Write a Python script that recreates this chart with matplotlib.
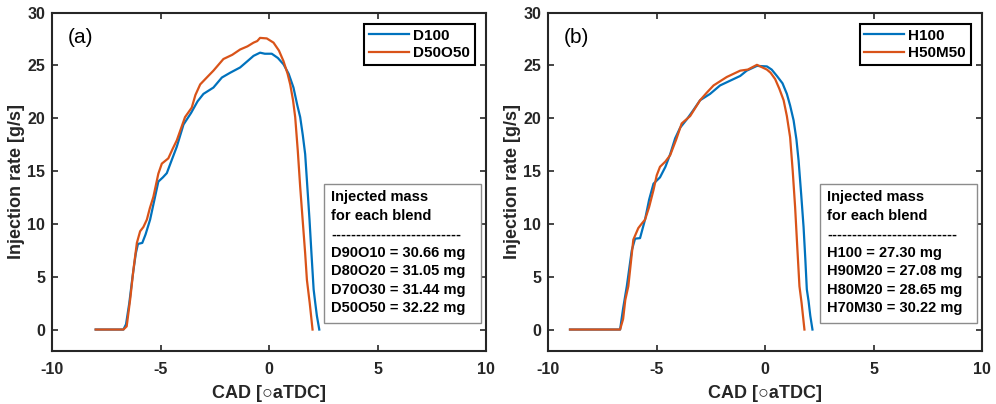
import numpy as np
import matplotlib
matplotlib.use("Agg")
import matplotlib.pyplot as plt
from matplotlib.patches import Rectangle

plt.rcParams['font.family'] = ['Liberation Sans', 'DejaVu Sans']
plt.rcParams['axes.unicode_minus'] = False

# panel (a) - diesel blends
cad_d100 = [-8.0, -6.72, -6.6, -6.45, -6.3, -6.15, -6.05, -5.85, -5.7, -5.49, -5.3, -5.11, -4.9, -4.72,
            -4.5, -4.26, -3.95, -3.6, -3.3, -3.03, -2.57, -2.18, -1.8, -1.34, -1.0, -0.72, -0.42, -0.2,
            0.12, 0.4, 0.66, 0.9, 1.12, 1.3, 1.43, 1.55, 1.66, 1.76, 1.86, 1.95, 2.05, 2.12, 2.2, 2.31]
rate_d100 = [0, 0, 0.5, 2.5, 5.0, 7.2, 8.1, 8.2, 9.0, 10.4, 12.2, 14.0, 14.4, 14.8,
             16.0, 17.3, 19.4, 20.5, 21.6, 22.3, 22.9, 23.85, 24.3, 24.8, 25.4, 25.9, 26.2, 26.1,
             26.1, 25.7, 25.1, 24.2, 22.9, 21.2, 20.1, 18.4, 16.6, 13.5, 10.4, 7.2, 3.8, 2.6, 1.3, 0]

cad_d50o50 = [-8.0, -6.72, -6.57, -6.4, -6.26, -6.1, -5.95, -5.8, -5.64, -5.5, -5.34, -5.11, -4.95, -4.65,
              -4.45, -4.26, -3.88, -3.57, -3.4, -3.18, -2.9, -2.57, -2.11, -1.7, -1.34, -1.0, -0.72, -0.55,
              -0.42, -0.11, 0.2, 0.45, 0.66, 0.85, 0.97, 1.1, 1.2, 1.32, 1.43, 1.55, 1.66, 1.74, 1.87, 2.0]
rate_d50o50 = [0, 0, 0.3, 3.0, 5.65, 8.2, 9.3, 9.7, 10.4, 11.5, 12.55, 14.75, 15.7, 16.2,
               17.1, 17.9, 20.1, 21.0, 22.2, 23.2, 23.8, 24.5, 25.6, 26.0, 26.5, 26.8, 27.15, 27.3,
               27.6, 27.55, 27.15, 26.4, 25.4, 24.2, 23.2, 21.7, 20.1, 16.9, 13.5, 10.2, 7.2, 4.7, 2.5, 0]

# panel (b) - HVO blends
cad_h100 = [-9.0, -6.69, -6.55, -6.38, -6.15, -6.0, -5.77, -5.54, -5.35, -5.15, -4.85, -4.6, -4.38, -4.15,
            -3.92, -3.61, -3.3, -3.0, -2.54, -2.08, -1.46, -1.15, -0.85, -0.38, 0.08, 0.3, 0.54, 0.8,
            1.0, 1.15, 1.31, 1.44, 1.54, 1.66, 1.77, 1.85, 1.92, 2.0, 2.08, 2.18]
rate_h100 = [0, 0, 2.0, 4.1, 7.5, 8.6, 8.65, 10.4, 12.3, 13.8, 14.4, 15.4, 16.6, 18.1,
             19.1, 19.9, 20.8, 21.7, 22.3, 23.1, 23.7, 24.0, 24.5, 24.95, 24.9, 24.6, 24.0, 23.3,
             22.3, 21.2, 19.8, 18.0, 16.0, 12.8, 9.7, 6.7, 3.8, 2.7, 1.3, 0]

cad_h50m50 = [-9.0, -6.69, -6.55, -6.45, -6.31, -6.2, -6.08, -5.85, -5.7, -5.54, -5.35, -5.15, -5.0, -4.85,
              -4.6, -4.38, -4.1, -3.85, -3.46, -3.0, -2.7, -2.38, -2.0, -1.77, -1.15, -0.8, -0.38, 0.08,
              0.25, 0.46, 0.65, 0.85, 1.0, 1.15, 1.27, 1.38, 1.48, 1.58, 1.68, 1.81]
rate_h50m50 = [0, 0, 1.0, 2.8, 4.1, 6.2, 8.5, 9.6, 10.0, 10.4, 11.6, 13.2, 14.6, 15.4,
               15.9, 16.5, 18.0, 19.5, 20.2, 21.7, 22.4, 23.1, 23.6, 23.9, 24.5, 24.6, 25.05, 24.6,
               24.3, 23.7, 22.8, 21.7, 20.2, 18.2, 15.0, 11.6, 7.8, 4.1, 2.5, 0]

text_a = ["Injected mass", "for each blend", "--------------------------",
          "D90O10 = 30.66 mg", "D80O20 = 31.05 mg", "D70O30 = 31.44 mg", "D50O50 = 32.22 mg"]
text_b = ["Injected mass", "for each blend", "--------------------------",
          "H100 = 27.30 mg", "H90M20 = 27.08 mg", "H80M20 = 28.65 mg", "H70M30 = 30.22 mg"]

blue = '#0072BD'
orange = '#D95319'
axcol = '#262626'

fig = plt.figure(figsize=(9.96, 4.04), dpi=100)
ax_a = fig.add_axes([0.0525, 0.132, 0.4355, 0.837])
ax_b = fig.add_axes([0.5505, 0.132, 0.4355, 0.837])

panels = [
    (ax_a, cad_d100, rate_d100, 'D100', cad_d50o50, rate_d50o50, 'D50O50', '(a)', text_a),
    (ax_b, cad_h100, rate_h100, 'H100', cad_h50m50, rate_h50m50, 'H50M50', '(b)', text_b),
]

for ax, x1, y1, l1, x2, y2, l2, tag, txt in panels:
    ax.plot(x1, y1, color=blue, lw=1.6, label=l1)
    ax.plot(x2, y2, color=orange, lw=1.6, label=l2)
    ax.set_xlim(-10, 10)
    ax.set_ylim(-2, 30)
    ax.set_xticks([-10, -5, 0, 5, 10])
    ax.set_yticks([0, 5, 10, 15, 20, 25, 30])
    ax.tick_params(direction='in', top=True, right=True, length=4, width=1.2,
                   colors=axcol, labelsize=11.5)
    ax.tick_params(axis='x', pad=8)
    ax.tick_params(axis='y', pad=5)
    for lab in ax.get_xticklabels() + ax.get_yticklabels():
        lab.set_fontweight('bold')
    for sp in ax.spines.values():
        sp.set_linewidth(1.5)
        sp.set_color(axcol)
    ax.set_xlabel('CAD [○aTDC]', fontsize=13, fontweight='bold', color=axcol, labelpad=6)
    ax.set_ylabel('Injection rate [g/s]', fontsize=13, fontweight='bold', color=axcol, labelpad=2)
    ax.text(0.035, 0.925, tag, transform=ax.transAxes, fontsize=15, va='center', ha='left')
    leg = ax.legend(loc='upper right', prop={'weight': 'bold', 'size': 11},
                    handlelength=2.6, handletextpad=0.3, borderpad=0.3, labelspacing=0.25,
                    fancybox=False, framealpha=1, borderaxespad=0.75)
    leg.get_frame().set_edgecolor('black')
    leg.get_frame().set_linewidth(1.5)
    # annotation box with injected masses
    ax.add_patch(Rectangle((0.626, 0.082), 0.362, 0.411, transform=ax.transAxes,
                           fc='white', ec='#8c8c8c', lw=1.0, zorder=4))
    ax.text(0.643, 0.474, '\n'.join(txt), transform=ax.transAxes, fontsize=10.5,
            fontweight='bold', va='top', ha='left', linespacing=1.41, color='black', zorder=5)

fig.savefig('out.png', dpi=100)
